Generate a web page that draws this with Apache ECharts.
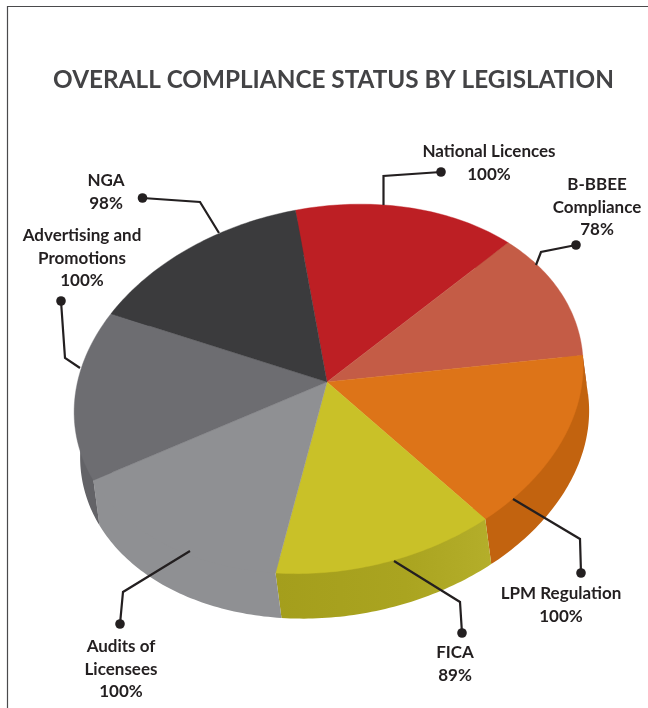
<!DOCTYPE html>
<html>
<head>
<meta charset="utf-8">
<style>html,body{margin:0;padding:0;background:#fff}#chart{width:648px;height:708px}</style>
<script src="https://cdn.jsdelivr.net/npm/echarts@6/dist/echarts.min.js"></script>
</head>
<body>
<div id="chart"></div>
<script>
// Compliance per legislation, clockwise from the top of the pie.
const categories = ['National Licences', 'B-BBEE Compliance', 'LPM Regulation', 'FICA', 'Audits of Licensees', 'Advertising and Promotions', 'NGA'];
const compliance = [100, 78, 100, 89, 100, 100, 98];
const labelLines = [['National Licences'], ['B-BBEE', 'Compliance'], ['LPM Regulation'], ['FICA'], ['Audits of', 'Licensees'], ['Advertising and', 'Promotions'], ['NGA']];
const topColors = ['#bd1f24', '#c45c46', '#dd7418', '#c9c128', '#8f9093', '#6d6d71', '#3b3b3d'];
const sideColors = ['#9c1a1e', '#a04a38', '#c2630f', null, '#8f9093', '#636367', '#2d2d2f'];

// Tilted-disc projection: perspective terms plus the extrusion of the rim.
const centre = [327, 382];
const tilt = { xu: 254.2, xv: 7.23, yu: -28.36, yv: 182.27, pu: -0.0053, pv: -0.0386, start: -1.6719 };
const depth = [6, 45];

// Leader polylines (pie end first, dot end last) and label anchors.
const leaders = [
  [[383.5, 205], [383.5, 176], [441, 172]],
  [[536, 265], [541, 252], [576, 245]],
  [[513, 499], [580, 539], [581, 573]],
  [[394, 561], [460, 602], [462, 633]],
  [[190, 551], [123, 592], [120, 624]],
  [[80, 368], [65, 358], [61, 301]],
  [[219, 233], [200, 202], [142.5, 198]]
];
const labelAnchors = [[489, 152], [597, 185], [561, 594], [455, 653], [121, 647], [82, 236], [106, 181]];
const lineStep = 22.5;
const inkColor = '#231f20';

const total = compliance.reduce((a, b) => a + b, 0);
const twoPi = Math.PI * 2;

function project(t) {
  const u = Math.cos(t), v = Math.sin(t), w = 1 + tilt.pu * u + tilt.pv * v;
  return [centre[0] + (tilt.xu * u + tilt.xv * v) / w, centre[1] + (tilt.yu * u + tilt.yv * v) / w];
}

function sliceRim(index) {
  const before = compliance.slice(0, index).reduce((a, b) => a + b, 0);
  const from = echarts.number.linearMap(before, [0, total], [tilt.start, tilt.start + twoPi]);
  const to = echarts.number.linearMap(before + compliance[index], [0, total], [tilt.start, tilt.start + twoPi]);
  const steps = Math.max(8, Math.ceil((to - from) * 180 / Math.PI));
  const rim = [];
  for (let s = 0; s <= steps; s++) rim.push(project(from + (to - from) * s / steps));
  return rim;
}

const seriesData = compliance.map((v, i) => [i, v]);

const ficaSide = new echarts.graphic.LinearGradient(0, 0, 1, 0, [
  { offset: 0, color: '#a49e1c' },
  { offset: 0.6, color: '#aaa420' },
  { offset: 1, color: '#b4ae2a' }
]);

const option = {
  animation: false,
  backgroundColor: '#fff',
  title: {
    text: 'OVERALL COMPLIANCE STATUS BY LEGISLATION',
    left: 328.5, top: 63, textAlign: 'center',
    textStyle: { fontFamily: 'Lato', fontWeight: 'bold', fontSize: 24.3, color: '#434345' }
  },
  graphic: [{
    type: 'polyline', silent: true,
    shape: { points: [[7.5, 708], [7.5, 6.5], [648, 6.5]] },
    style: { stroke: '#4a4a4c', lineWidth: 1.2, fill: null }
  }],
  series: [
    {
      // Rim of the disc, drawn first; its upper edge runs a little under the top face.
      type: 'custom', coordinateSystem: 'none', data: seriesData, z: 1,
      renderItem(params) {
        const i = params.dataIndex, rim = sliceRim(i);
        const lower = rim.map(p => [p[0] + depth[0], p[1] + depth[1]]).reverse();
        const inner = rim.map(p => [p[0] + (centre[0] - p[0]) * 0.08, p[1] + (centre[1] - p[1]) * 0.08]);
        const outline = [rim[0]].concat(inner, [rim[rim.length - 1]], lower);
        return { type: 'polygon', shape: { points: outline }, style: { fill: i === 3 ? ficaSide : sideColors[i] } };
      }
    },
    {
      // Top faces.
      type: 'custom', coordinateSystem: 'none', data: seriesData, z: 2,
      renderItem(params) {
        const i = params.dataIndex;
        return { type: 'polygon', shape: { points: [centre].concat(sliceRim(i)) }, style: { fill: topColors[i], stroke: topColors[i], lineWidth: 0.4 } };
      }
    },
    {
      // Leaders, end dots and the name/percentage labels.
      type: 'custom', coordinateSystem: 'none', data: seriesData, z: 3,
      renderItem(params, api) {
        const i = params.dataIndex, path = leaders[i], dot = path[path.length - 1];
        const lines = labelLines[i].concat([api.value(1) + '%']);
        const children = [
          { type: 'polyline', shape: { points: path }, style: { stroke: inkColor, lineWidth: 2.2, fill: null } },
          { type: 'circle', shape: { cx: dot[0], cy: dot[1], r: 4.8 }, style: { fill: inkColor } }
        ];
        lines.forEach((line, k) => children.push({
          type: 'text',
          style: {
            text: line, x: labelAnchors[i][0], y: labelAnchors[i][1] + k * lineStep,
            align: 'center', verticalAlign: 'middle',
            font: 'bold 17px Lato', fill: inkColor
          }
        }));
        return { type: 'group', children };
      }
    }
  ]
};

echarts.init(document.getElementById('chart')).setOption(option);
</script>
</body>
</html>
